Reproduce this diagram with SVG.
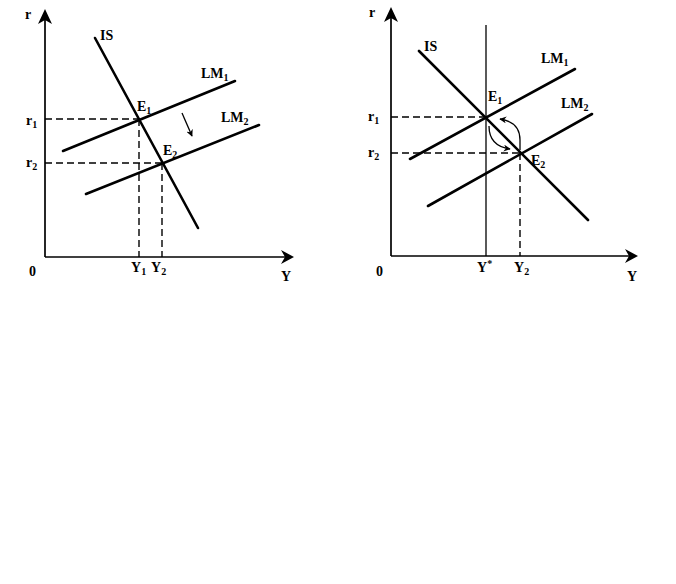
<svg xmlns="http://www.w3.org/2000/svg" width="676" height="584" viewBox="0 0 676 584">
<style>
text{font-family:"Liberation Serif","Times New Roman",serif;font-weight:bold;font-size:14px;fill:#000}
.sub{font-size:10px}
.axis{stroke:#000;stroke-width:1.7;fill:none}
.curve{stroke:#000;stroke-width:2.6;fill:none;stroke-linecap:round}
.dash{stroke:#000;stroke-width:1.4;fill:none;stroke-dasharray:7,4}
.thin{stroke:#000;stroke-width:1.3;fill:none}
.head{fill:#000}
</style>
<defs>
<marker id="ah" viewBox="0 0 10 10" refX="9" refY="5" markerWidth="7" markerHeight="7" orient="auto" markerUnits="userSpaceOnUse">
<path d="M0,0 L10,5 L0,10 L3,5 Z" fill="#000"/>
</marker>
</defs>
<rect width="676" height="584" fill="#fff"/>

<g id="left-panel">
  <g id="left-axes">
    <line class="axis" x1="45" y1="257" x2="45" y2="18"/>
    <polygon class="head" points="45,9 52,24 45,20 38,24"/>
    <line class="axis" x1="45" y1="257" x2="286" y2="257"/>
    <polygon class="head" points="294,257 281,250 285,257 281,264"/>
    <text x="25" y="19">r</text>
    <text x="29" y="276">0</text>
    <text x="281" y="281">Y</text>
  </g>
  <g id="left-connectors">
    <line class="dash" x1="45" y1="119" x2="138" y2="119"/>
    <line class="dash" x1="45" y1="163" x2="162" y2="163"/>
    <line class="dash" x1="139" y1="119" x2="139" y2="257"/>
    <line class="dash" x1="162" y1="163" x2="162" y2="257"/>
    <line class="thin" x1="182" y1="113" x2="192" y2="136" marker-end="url(#ah)"/>
  </g>
  <g id="left-IS">
    <line class="curve" x1="95" y1="38" x2="198" y2="228"/>
    <text x="100" y="40">IS</text>
  </g>
  <g id="left-LM1">
    <line class="curve" x1="63" y1="151" x2="235" y2="81"/>
    <text x="201" y="78">LM<tspan class="sub" dy="3">1</tspan></text>
  </g>
  <g id="left-LM2">
    <line class="curve" x1="86" y1="194" x2="259" y2="125"/>
    <text x="221" y="122">LM<tspan class="sub" dy="3">2</tspan></text>
  </g>
  <g id="left-E1"><text x="137" y="111">E<tspan class="sub" dy="3">1</tspan></text></g>
  <g id="left-E2"><text x="163" y="155">E<tspan class="sub" dy="3">2</tspan></text></g>
  <g id="left-r1"><text x="26" y="125">r<tspan class="sub" dy="3">1</tspan></text></g>
  <g id="left-r2"><text x="26" y="167">r<tspan class="sub" dy="3">2</tspan></text></g>
  <g id="left-Y1"><text x="131" y="272">Y<tspan class="sub" dy="3">1</tspan></text></g>
  <g id="left-Y2"><text x="151" y="272">Y<tspan class="sub" dy="3">2</tspan></text></g>
</g>

<g id="right-panel">
  <g id="right-axes">
    <line class="axis" x1="391" y1="256" x2="391" y2="17"/>
    <polygon class="head" points="391,7 398,22 391,18 384,22"/>
    <line class="axis" x1="391" y1="256" x2="630" y2="256"/>
    <polygon class="head" points="638,256 625,249 629,256 625,263"/>
    <text x="369" y="17">r</text>
    <text x="376" y="276">0</text>
    <text x="627" y="281">Y</text>
  </g>
  <g id="right-connectors">
    <line class="thin" x1="486" y1="25" x2="486" y2="256"/>
    <line class="dash" x1="391" y1="117" x2="486" y2="117"/>
    <line class="dash" x1="391" y1="153" x2="520" y2="153"/>
    <line class="dash" x1="520" y1="153" x2="520" y2="256"/>
    <path class="thin" d="M520,150 L520,140 Q520,122 500,119" marker-end="url(#ah)"/>
    <path class="thin" d="M489,126 Q489,146 510,149" marker-end="url(#ah)"/>
  </g>
  <g id="right-IS">
    <line class="curve" x1="419" y1="51" x2="588" y2="220"/>
    <text x="424" y="51">IS</text>
  </g>
  <g id="right-LM1">
    <line class="curve" x1="410" y1="159" x2="575" y2="69"/>
    <text x="541" y="63">LM<tspan class="sub" dy="3">1</tspan></text>
  </g>
  <g id="right-LM2">
    <line class="curve" x1="428" y1="206" x2="592" y2="114"/>
    <text x="561" y="108">LM<tspan class="sub" dy="3">2</tspan></text>
  </g>
  <g id="right-E1"><text x="488" y="101">E<tspan class="sub" dy="3">1</tspan></text></g>
  <g id="right-E2"><text x="531" y="165">E<tspan class="sub" dy="3">2</tspan></text></g>
  <g id="right-r1"><text x="368" y="121">r<tspan class="sub" dy="3">1</tspan></text></g>
  <g id="right-r2"><text x="368" y="157">r<tspan class="sub" dy="3">2</tspan></text></g>
  <g id="right-Ystar"><text x="477" y="272">Y<tspan class="sub" dy="-5">*</tspan></text></g>
  <g id="right-Y2"><text x="514" y="272">Y<tspan class="sub" dy="3">2</tspan></text></g>
</g>
</svg>
